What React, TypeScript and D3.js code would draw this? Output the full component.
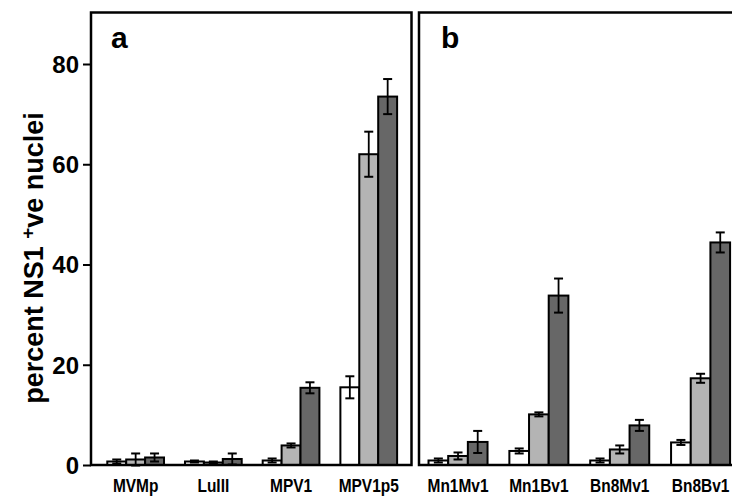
import React from 'react'
import { useRef, useEffect } from "react";
import * as d3 from 'd3';

// virus strains in each panel
const strainsA = ['MVMp', 'LuIII', 'MPV1', 'MPV1p5'];
const strainsB = ['Mn1Mv1', 'Mn1Bv1', 'Bn8Mv1', 'Bn8Bv1'];
const series = ['s1', 's2', 's3'];
const fills = ['#ffffff', '#b4b4b4', '#676767'];

// percent NS1 +ve nuclei (white, light grey, dark grey)
const valuesA = [
  [0.7, 1.1, 1.5],
  [0.7, 0.5, 1.2],
  [0.9, 3.9, 15.4],
  [15.5, 62.0, 73.5],
];
const errorsA = [
  [0.4, 1.2, 0.8],
  [0.2, 0.2, 1.1],
  [0.4, 0.4, 1.1],
  [2.2, 4.5, 3.5],
];
const valuesB = [
  [0.9, 1.8, 4.6],
  [2.8, 10.1, 33.8],
  [0.9, 3.1, 7.9],
  [4.5, 17.3, 44.4],
];
const errorsB = [
  [0.4, 0.7, 2.2],
  [0.5, 0.4, 3.4],
  [0.4, 0.8, 1.1],
  [0.5, 0.9, 2.0],
];
const yTicks = [0, 20, 40, 60, 80];

export default function App() {
  const svgRef = useRef(null);

  useEffect(() => {
    const w = 732;
    const h = 497;
    const svg = d3.select(svgRef.current);
    svg.selectAll('*').remove();
    svg.attr('width', w).attr('height', h);

    const font = 'Liberation Sans, Arial, Helvetica, sans-serif';
    const top = 12.5;
    const yscale = d3.scaleLinear().domain([0, 80]).range([465, 64]);

    const panels = [
      { cats: strainsA, vals: valuesA, errs: errorsA, x0: 91, x1: 411.5, range: [96.8, 407.6], letter: 'a', lx: 111 },
      { cats: strainsB, vals: valuesB, errs: errorsB, x0: 419, x1: 745, range: [417.6, 741], letter: 'b', lx: 441 },
    ];

    panels.forEach(p => {
      const g = svg.append('g');
      const xscale = d3.scaleBand().domain(p.cats).range(p.range);
      const groupW = xscale.step() * 0.73;
      const inner = d3.scaleBand().domain(series).range([0, groupW]);

      p.cats.forEach((c, i) => {
        const gx = xscale(c) + (xscale.bandwidth() - groupW) / 2;
        series.forEach((s, j) => {
          const v = p.vals[i][j];
          const e = p.errs[i][j];
          const bx = gx + inner(s);
          g.append('rect')
            .attr('x', bx)
            .attr('y', yscale(v))
            .attr('width', inner.bandwidth())
            .attr('height', yscale(0) - yscale(v))
            .style('fill', fills[j])
            .style('stroke', '#000')
            .style('stroke-width', 2);
          const cx = bx + inner.bandwidth() / 2;
          g.append('line')
            .attr('x1', cx).attr('x2', cx)
            .attr('y1', yscale(v - e)).attr('y2', yscale(v + e))
            .style('stroke', '#000').style('stroke-width', 1.8);
          [v - e, v + e].forEach(t => {
            g.append('line')
              .attr('x1', cx - 4.5).attr('x2', cx + 4.5)
              .attr('y1', yscale(t)).attr('y2', yscale(t))
              .style('stroke', '#000').style('stroke-width', 2);
          });
        });
        // category label, slightly condensed
        g.append('text')
          .attr('transform', `translate(${xscale(c) + xscale.bandwidth() / 2},492) scale(0.86,1)`)
          .attr('text-anchor', 'middle')
          .style('font-family', font)
          .style('font-weight', 'bold')
          .style('font-size', '18px')
          .text(c);
      });

      // panel frame
      g.append('rect')
        .attr('x', p.x0).attr('y', top)
        .attr('width', p.x1 - p.x0).attr('height', yscale(0) - top)
        .style('fill', 'none').style('stroke', '#000').style('stroke-width', 2.5);

      g.append('text')
        .attr('x', p.lx).attr('y', 48)
        .style('font-family', font)
        .style('font-weight', 'bold')
        .style('font-size', '30px')
        .text(p.letter);
    });

    // y axis
    const yAxis = d3.axisLeft(yscale).tickValues(yTicks).tickSize(8).tickPadding(4);
    const ax = svg.append('g').attr('transform', 'translate(91,0)').call(yAxis);
    ax.select('.domain').remove();
    ax.selectAll('line').style('stroke-width', 2);
    ax.selectAll('text')
      .style('font-family', font)
      .style('font-weight', 'bold')
      .style('font-size', '24px')
      .attr('dy', '0.35em');

    // y label with superscript +
    const lab = svg.append('text')
      .attr('transform', 'translate(43,258) rotate(-90)')
      .attr('text-anchor', 'middle')
      .style('font-family', font)
      .style('font-weight', 'bold')
      .style('font-size', '27px');
    lab.append('tspan').text('percent NS1 ');
    lab.append('tspan').attr('dy', -9).style('font-size', '19px').text('+');
    lab.append('tspan').attr('dy', 9).text('ve nuclei');
  }, []);

  return (
    <div>
      <svg ref={svgRef} style={{ position: 'absolute', left: 0, top: 0, background: '#fff' }}></svg>
    </div>
  );
}
